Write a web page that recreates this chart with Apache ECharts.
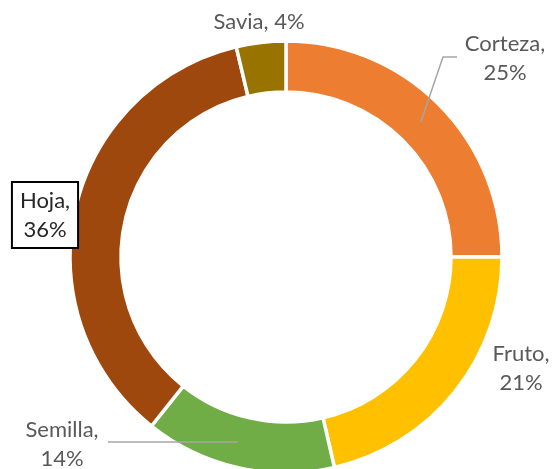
<!DOCTYPE html>
<html>
<head>
<meta charset="utf-8">
<script src="https://cdn.jsdelivr.net/npm/echarts@6/dist/echarts.min.js"></script>
<style>
  html, body { margin: 0; padding: 0; background: #fff; }
  #chart { width: 553px; height: 469px; }
</style>
</head>
<body>
<div id="chart"></div>
<script>
// 数据 (百分比, 标签显示取整)
const categories = ["Corteza", "Fruto", "Semilla", "Hoja", "Savia"];
const values = [25.0, 21.4, 14.3, 35.6, 3.7];
const colors = ["#ED7D31", "#FFC000", "#70AD47", "#9E480E", "#997300"];

// 标签位置 (文本中心)
const labelPos = [[505, 58], [521, 368], [62, 444], [45, 215], [259, 22]];

const center = [286, 257];
const radius = [165, 216];

// 扇区中点 (环中间), 用于引导线起点
const midPoint = (index) => {
  const total = values.reduce((a, b) => a + b, 0);
  let before = 0;
  for (let i = 0; i < index; i++) before += values[i];
  const ang = ((before + values[index] / 2) / total) * Math.PI * 2;
  const r = (radius[0] + radius[1]) / 2;
  return [center[0] + r * Math.sin(ang), center[1] - r * Math.cos(ang)];
};

const chart = echarts.init(document.getElementById("chart"));

// 环形扇区
const ringData = categories.map((name, i) => ({
  name: name,
  value: values[i],
  itemStyle: { color: colors[i] },
}));

// 标签层 (透明, 叠在上面, 引导线画在扇区之上)
const labelData = categories.map((name, i) => {
  const item = {
    name: name,
    value: values[i],
    labelLine: { show: i === 0 || i === 2 },
  };
  if (name === "Hoja") {
    item.label = {
      backgroundColor: "#fff",
      borderColor: "#000",
      borderWidth: 2,
      padding: [4, 7, 2, 7],
      color: "#262626",
    };
  }
  return item;
});

chart.setOption({
  backgroundColor: "#fff",
  animation: false,
  series: [
    {
      type: "pie",
      center: center,
      radius: radius,
      startAngle: 90,
      clockwise: true,
      silent: true,
      itemStyle: { borderColor: "#fff", borderWidth: 3.5 },
      label: { show: false },
      labelLine: { show: false },
      data: ringData,
    },
    {
      type: "pie",
      z: 5,
      center: center,
      radius: radius,
      startAngle: 90,
      clockwise: true,
      silent: true,
      avoidLabelOverlap: false,
      itemStyle: { color: "rgba(0,0,0,0)" },
      label: {
        show: true,
        position: "outside",
        fontFamily: "Lato",
        fontSize: 22,
        lineHeight: 29,
        color: "#595959",
        align: "center",
        formatter: (p) => {
          const pct = Math.round(p.value) + "%";
          return p.name === "Savia" ? p.name + ", " + pct : p.name + ",\n" + pct;
        },
      },
      labelLine: {
        lineStyle: { color: "#A6A6A6", width: 1.5 },
      },
      labelLayout: (params) => {
        const i = params.dataIndex;
        const pos = labelPos[i];
        const res = { x: pos[0], y: pos[1], align: "center", verticalAlign: "middle" };
        if (i === 0) {
          const s = midPoint(0);
          res.labelLinePoints = [s, [443, 57], [457, 57]];
        } else if (i === 2) {
          const s = midPoint(2);
          res.labelLinePoints = [[s[0] - 6, 442], [175, 442], [108, 442]];
        }
        return res;
      },
      data: labelData,
    },
  ],
});
</script>
</body>
</html>
